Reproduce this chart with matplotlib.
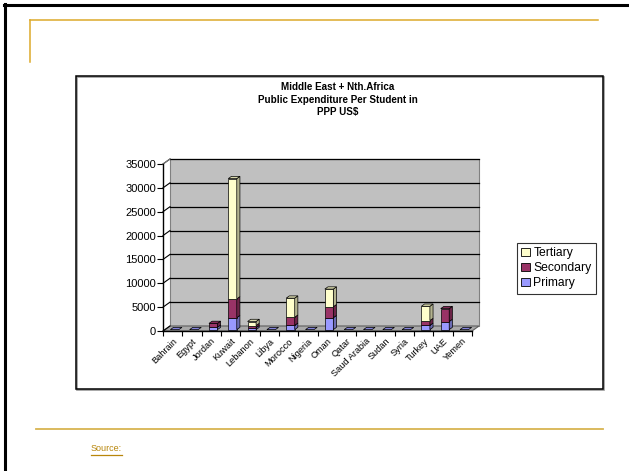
import matplotlib
matplotlib.use("Agg")
import matplotlib.pyplot as plt
from matplotlib.patches import Polygon, Rectangle, Patch
from matplotlib.lines import Line2D

plt.rcParams['font.family'] = ['Liberation Sans', 'DejaVu Sans']

# ---- data: public expenditure per student (PPP US$) ----
countries = ["Bahrain", "Egypt", "Jordan", "Kuwait", "Lebanon", "Libya", "Morocco",
             "Nigeria", "Oman", "Qatar", "Saud Arabia", "Sudan", "Syria", "Turkey",
             "UAE", "Yemen"]
primary = [0, 0, 500, 2500, 400, 0, 900, 0, 2500, 0, 0, 0, 0, 900, 1700, 0]
secondary = [0, 0, 800, 3950, 450, 0, 1700, 0, 2300, 0, 0, 0, 0, 1000, 2700, 0]
tertiary = [0, 0, 0, 25200, 850, 0, 4000, 0, 3700, 0, 0, 0, 0, 3000, 0, 0]
y_ticks = [0, 5000, 10000, 15000, 20000, 25000, 30000, 35000]
title_lines = ["Middle East + Nth.Africa", "Public Expenditure Per Student in", "PPP US$"]

series = [("Primary", primary, "#9999FF"),
          ("Secondary", secondary, "#993366"),
          ("Tertiary", tertiary, "#FFFFCC")]

W, H = 629, 471
fig = plt.figure(figsize=(W / 100, H / 100), dpi=100)


def fx(x):
    return x / W


def fy(y):
    return 1 - y / H


def shade(hexcol, k):
    c = matplotlib.colors.to_rgb(hexcol)
    return tuple(min(1, v * k) for v in c)


# ---- slide decoration ----
fig.add_artist(Line2D([fx(4), fx(W)], [fy(5), fy(5)], color="black", lw=2.2))
fig.add_artist(Line2D([fx(5), fx(5)], [fy(4), fy(H)], color="black", lw=2.2))
gold = "#DDAA2A"
fig.add_artist(Line2D([fx(30), fx(598)], [fy(20), fy(20)], color=gold, lw=1.1))
fig.add_artist(Line2D([fx(30), fx(30)], [fy(20), fy(62)], color=gold, lw=1.1))
fig.add_artist(Line2D([fx(36), fx(603)], [fy(429), fy(429)], color="#D8B451", lw=1.3))

# chart frame with a soft shadow
fig.add_artist(Rectangle((fx(77), fy(390)), fx(603 - 76), (390 - 77) / H,
                         fill=False, edgecolor="#999999", lw=1.2))
fig.add_artist(Rectangle((fx(76), fy(389)), fx(603 - 76), (389 - 76) / H,
                         fill=False, edgecolor="black", lw=1.1))

# source note
src = fig.text(fx(91), fy(451), "Source:", color="#B8860B", fontsize=6.5,
               ha="left", va="baseline")

# title
for txt, yy in zip(title_lines, [87, 100, 112]):
    fig.text(fx(338), fy(yy), txt, ha="center", va="center",
             fontsize=7.1, fontweight="bold")

# ---- plot area ----
ax_l, ax_r, ax_t, ax_b = 163, 472, 164, 331
ax = fig.add_axes([fx(ax_l), fy(ax_b), (ax_r - ax_l) / W, (ax_b - ax_t) / H])
n = len(countries)
ymax = y_ticks[-1]
ax.set_xlim(0, n)
ax.set_ylim(0, ymax)
ax.patch.set_visible(False)
for s in ("top", "right"):
    ax.spines[s].set_visible(False)
for s in ("left", "bottom"):
    ax.spines[s].set_color("black")
    ax.spines[s].set_linewidth(1.0)
    ax.spines[s].set_zorder(6)

# pixel -> data conversion for the depth effect
px_x = n / (ax_r - ax_l)
px_y = ymax / (ax_b - ax_t)
ddx, ddy = 7 * px_x, 5 * px_y          # full depth of the plot box
bfrac = 0.45                           # bar depth as fraction of box depth
bdx, bdy = ddx * bfrac, ddy * bfrac
ofx, ofy = ddx * (1 - bfrac) / 2, ddy * (1 - bfrac) / 2

wall = "#C0C0C0"
# back wall
ax.add_patch(Polygon([(ddx, ddy), (n + ddx, ddy), (n + ddx, ymax + ddy), (ddx, ymax + ddy)],
                     closed=True, facecolor=wall, edgecolor="#808080", lw=0.8,
                     clip_on=False, zorder=1))
# floor
ax.add_patch(Polygon([(0, 0), (n, 0), (n + ddx, ddy), (ddx, ddy)], closed=True,
                     facecolor="#A8A8A8", edgecolor="#606060", lw=0.8,
                     clip_on=False, zorder=1.5))
# gridlines on back wall and the side-wall diagonals
for v in y_ticks:
    if v > 0:
        ax.plot([ddx, n + ddx], [v + ddy, v + ddy], color="black", lw=0.9,
                clip_on=False, zorder=2)
    ax.plot([0, ddx], [v, v + ddy], color="black", lw=0.8, clip_on=False, zorder=2)
ax.plot([0, ddx], [ymax, ymax + ddy], color="#808080", lw=0.8, clip_on=False, zorder=2)

# ---- stacked 3D-style columns ----
bw = 0.44
x_front = [i + 0.5 - bw / 2 + ofx for i in range(n)]
for i in range(n):
    base = 0.0
    x0 = x_front[i]
    x1 = x0 + bw
    top_color = series[0][2]
    for name, vals, col in series:
        v = vals[i]
        if v <= 0:
            continue
        y0, y1 = base + ofy, base + v + ofy
        ax.bar(x0, v, width=bw, bottom=base + ofy, align="edge", color=col,
               edgecolor="black", lw=0.5, zorder=3, clip_on=False)
        ax.add_patch(Polygon([(x1, y0), (x1 + bdx, y0 + bdy), (x1 + bdx, y1 + bdy), (x1, y1)],
                             closed=True, facecolor=shade(col, 0.7), edgecolor="black",
                             lw=0.5, zorder=3, clip_on=False))
        base += v
        top_color = col
    yt = base + ofy
    ax.add_patch(Polygon([(x0, yt), (x1, yt), (x1 + bdx, yt + bdy), (x0 + bdx, yt + bdy)],
                         closed=True, facecolor=shade(top_color, 0.85), edgecolor="black",
                         lw=0.5, zorder=3.5, clip_on=False))

# ---- axes ticks and labels ----
ax.set_yticks(y_ticks)
ax.set_yticklabels([str(v) for v in y_ticks], fontsize=8)
ax.tick_params(axis="y", direction="out", length=4, width=0.8, pad=1)
ax.set_xticks(range(n + 1))
ax.set_xticklabels([])
ax.tick_params(axis="x", which="major", direction="out", length=3.5, width=0.8)
ax.set_xticks([i + 0.5 for i in range(n)], minor=True)
ax.set_xticklabels(countries, minor=True, rotation=45, ha="right",
                   rotation_mode="anchor", fontsize=6.7)
ax.tick_params(axis="x", which="minor", length=0, pad=4)

# ---- legend ----
handles = [Patch(facecolor=col, edgecolor="black", lw=0.6, label=name)
           for name, vals, col in series[::-1]]
leg = fig.legend(handles=handles, loc="upper left",
                 bbox_to_anchor=(fx(517), fy(243)), fontsize=8.7, frameon=True,
                 fancybox=False, edgecolor="black", borderpad=0.35, labelspacing=0.25,
                 handlelength=0.7, handleheight=0.7, handletextpad=0.3,
                 borderaxespad=0)
leg.get_frame().set_linewidth(0.8)

# underline the source note
fig.canvas.draw()
bb = src.get_window_extent()
fig.add_artist(Line2D([bb.x0 / W, bb.x1 / W], [(bb.y0 - 1.5) / H, (bb.y0 - 1.5) / H],
                      color="#B8860B", lw=0.9))

fig.savefig("out.png", dpi=100)
